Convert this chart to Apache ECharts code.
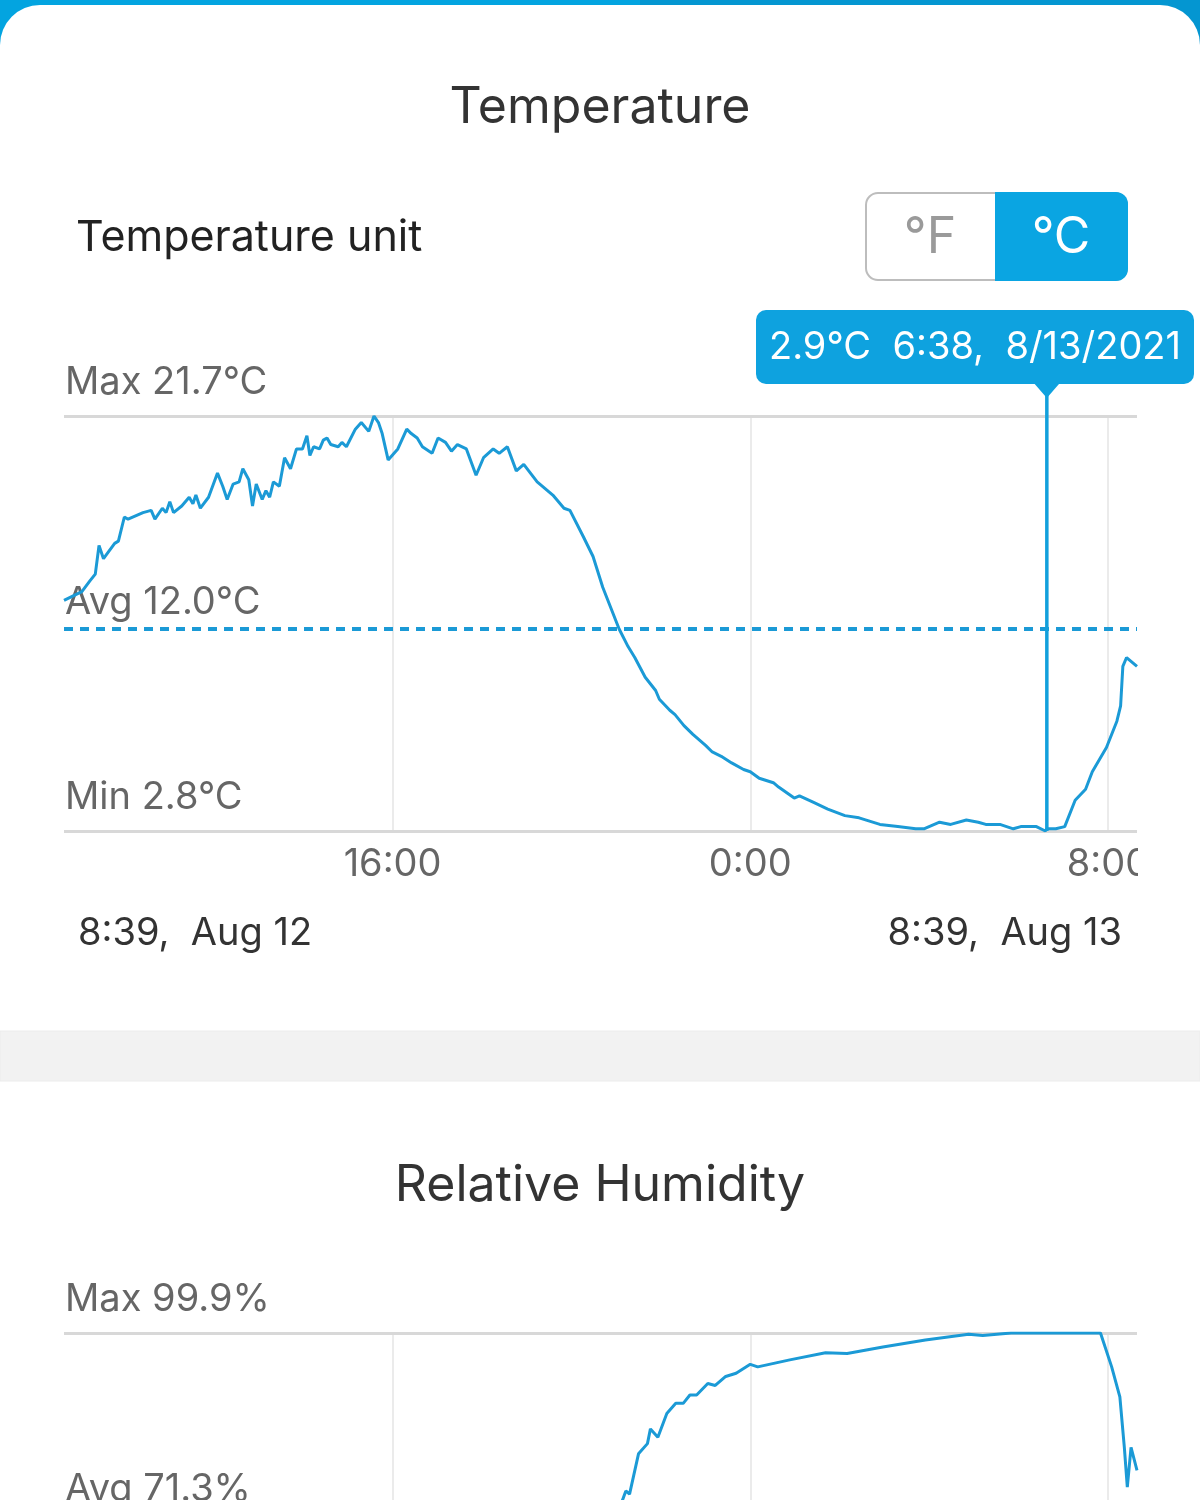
<!DOCTYPE html>
<html><head><meta charset="utf-8">
<script src="https://cdn.jsdelivr.net/npm/echarts@6/dist/echarts.min.js"></script>
<style>html,body{margin:0;padding:0;background:#fff;}#c{width:1200px;height:1500px;}</style>
</head><body><div id="c"></div>
<script>
// ---------- data ----------
const year = 2021;
const rangeStart = '08-12 08:39';
const rangeEnd = '08-13 08:39';
const xTicks = ['08-12 16:00', '08-13 00:00', '08-13 08:00'];

const tempTimes = ['08-12 08:39','08-12 09:03','08-12 09:14','08-12 09:21','08-12 09:26','08-12 09:32','08-12 09:47','08-12 09:52','08-12 10:00','08-12 10:05',
'08-12 10:25','08-12 10:36','08-12 10:41','08-12 10:51','08-12 10:56','08-12 11:01','08-12 11:06','08-12 11:17','08-12 11:27','08-12 11:32',
'08-12 11:36','08-12 11:42','08-12 11:53','08-12 12:05','08-12 12:12','08-12 12:18','08-12 12:26','08-12 12:34','08-12 12:39','08-12 12:47',
'08-12 12:52','08-12 12:57','08-12 13:05','08-12 13:10','08-12 13:15','08-12 13:20','08-12 13:28','08-12 13:35','08-12 13:43','08-12 13:51',
'08-12 13:59','08-12 14:05','08-12 14:09','08-12 14:14','08-12 14:22','08-12 14:27','08-12 14:32','08-12 14:37','08-12 14:47','08-12 14:52',
'08-12 14:58','08-12 15:10','08-12 15:18','08-12 15:28','08-12 15:35','08-12 15:41','08-12 15:46','08-12 15:54','08-12 16:07','08-12 16:19',
'08-12 16:25','08-12 16:33','08-12 16:40','08-12 16:53','08-12 17:01','08-12 17:11','08-12 17:19','08-12 17:27','08-12 17:39','08-12 17:52',
'08-12 18:02','08-12 18:15','08-12 18:23','08-12 18:34','08-12 18:46','08-12 18:56','08-12 19:14','08-12 19:35','08-12 19:50','08-12 19:58',
'08-12 20:16','08-12 20:29','08-12 20:42','08-12 21:04','08-12 21:16','08-12 21:25','08-12 21:39','08-12 21:53','08-12 21:58','08-12 22:12',
'08-12 22:19','08-12 22:31','08-12 22:43','08-12 23:00','08-12 23:09','08-12 23:21','08-12 23:35','08-12 23:51','08-13 00:00','08-13 00:12',
'08-13 00:31','08-13 00:38','08-13 00:59','08-13 01:06','08-13 01:25','08-13 01:44','08-13 02:07','08-13 02:26','08-13 02:54','08-13 03:18',
'08-13 03:42','08-13 03:53','08-13 04:14','08-13 04:29','08-13 04:50','08-13 05:06','08-13 05:16','08-13 05:35','08-13 05:53','08-13 06:03',
'08-13 06:24','08-13 06:36','08-13 06:38','08-13 06:50','08-13 07:02','08-13 07:16','08-13 07:30','08-13 07:39','08-13 07:58','08-13 08:12',
'08-13 08:17','08-13 08:20','08-13 08:25','08-13 08:39'];
const tempValues = [13.3,13.7,14.2,14.5,15.8,15.2,15.9,16.0,17.1,17.0,
17.3,17.4,17.0,17.5,17.3,17.8,17.3,17.6,18.0,17.7,
18.1,17.5,18.0,19.1,18.5,17.9,18.6,18.7,19.3,18.8,
17.6,18.6,17.9,18.3,18.0,18.7,18.5,19.8,19.3,20.2,
20.2,20.8,19.9,20.3,20.2,20.6,20.7,20.4,20.3,20.5,
20.3,21.1,21.4,21.0,21.7,21.4,20.9,19.7,20.2,21.1,
20.9,20.7,20.3,20.0,20.7,20.5,20.1,20.4,20.2,19.0,
19.8,20.2,20.0,20.3,19.2,19.5,18.7,18.1,17.5,17.4,
16.2,15.3,13.9,12.0,11.2,10.7,9.8,9.2,8.8,8.3,
8.1,7.6,7.2,6.7,6.4,6.2,5.9,5.6,5.5,5.2,
5.0,4.8,4.3,4.4,4.1,3.8,3.5,3.4,3.1,3.0,
2.9,2.9,3.2,3.1,3.3,3.2,3.1,3.1,2.9,3.0,
3.0,2.8,2.9,2.9,3.0,4.2,4.7,5.5,6.6,7.8,
8.5,10.3,10.7,10.3];
const tempStats = [21.7, 12.0, 2.8];          // max, avg, min
const cursorTime = '08-13 06:38';
const cursorValue = 2.9;

const humTimes = ['08-12 08:39','08-12 09:00','08-12 09:30','08-12 10:00','08-12 10:30','08-12 11:00','08-12 11:30','08-12 12:00','08-12 12:30','08-12 13:00',
'08-12 13:30','08-12 14:00','08-12 14:30','08-12 15:00','08-12 15:30','08-12 16:00','08-12 16:30','08-12 17:00','08-12 17:30','08-12 18:00',
'08-12 18:30','08-12 19:00','08-12 19:30','08-12 20:00','08-12 20:30','08-12 20:50','08-12 21:00','08-12 21:08','08-12 21:13','08-12 21:18',
'08-12 21:30','08-12 21:42','08-12 21:46','08-12 21:56','08-12 22:08','08-12 22:20','08-12 22:30','08-12 22:39','08-12 22:48','08-12 23:03',
'08-12 23:13','08-12 23:27','08-12 23:41','08-13 00:00','08-13 00:10','08-13 00:53','08-13 01:41','08-13 02:10','08-13 02:58','08-13 03:55',
'08-13 04:53','08-13 05:12','08-13 05:31','08-13 05:50','08-13 07:50','08-13 08:05','08-13 08:16','08-13 08:22','08-13 08:26','08-13 08:31',
'08-13 08:39'];
const humValues = [70,66,61,55,50,47,45,42,41,40,
38,37,36,35.5,35,36,36.5,37,38,39,
40,42,45,49,55,62,68,73.6,75.2,74.7,
81.0,82.6,84.9,83.6,87.3,88.9,88.9,90.2,90.2,92.0,
91.7,93.1,93.6,95.0,94.6,95.7,96.8,96.7,97.7,98.8,
99.7,99.5,99.7,99.9,99.9,94.6,89.9,82.0,75.8,82.0,
78.4];
const humStats = [99.9, 71.3, 35.0];          // max, avg, min (min estimated)

// ---------- helpers ----------
const FONT = 'Inter, Roboto, "Noto Sans", sans-serif';
const months = ['Jan','Feb','Mar','Apr','May','Jun','Jul','Aug','Sep','Oct','Nov','Dec'];
function toMin(s){ return (+s.slice(3,5) - 12) * 1440 + (+s.slice(6,8)) * 60 + (+s.slice(9,11)); }
function fmtHM(min){ const t = ((min % 1440) + 1440) % 1440; return Math.floor(t/60) + ':' + String(t % 60).padStart(2,'0'); }
function fmtStamp(s){ return fmtHM(toMin(s)) + ',  ' + months[+s.slice(0,2)-1] + ' ' + (+s.slice(3,5)); }

const xMin = toMin(rangeStart), xMax = toMin(rangeEnd);
const tickMins = xTicks.map(toMin);
const tData = tempTimes.map((t,i) => [toMin(t), tempValues[i]]);
const hData = humTimes.map((t,i) => [toMin(t), humValues[i]]);

const BLUE = '#1b9ad6';
function statLabel(text, dist){
  return {show:true, position:'insideStartTop', formatter:text, fontSize:38, color:'#666', fontFamily:FONT, distance:[1, dist]};
}
function markLines(stats, unit){
  return {
    silent:true, symbol:['none','none'], animation:false, z:1,
    data: [
      ...tickMins.map(v => ({xAxis:v, lineStyle:{color:'#e4e4e4', width:1.5, type:'solid'}, label:{show:false}})),
      {yAxis:stats[0], lineStyle:{color:'#d8d8d8', width:3, type:'solid'}, label:statLabel('Max ' + stats[0].toFixed(1) + unit, 14)},
      {yAxis:stats[2], lineStyle:{color:'#d8d8d8', width:3, type:'solid'}, label:statLabel('Min ' + stats[2].toFixed(1) + unit, 14)},
      {yAxis:stats[1], lineStyle:{color:BLUE, width:4, type:[9,7]}, label:statLabel('Avg ' + stats[1].toFixed(1) + unit, 7)}
    ]
  };
}
function xAxisCfg(gi){
  return {type:'value', gridIndex:gi, min:xMin, max:xMax,
    axisLine:{show:false}, axisTick:{show:false}, splitLine:{show:false},
    axisLabel:{customValues:tickMins, formatter:fmtHM, fontSize:38, color:'#666', fontFamily:FONT, margin:15}};
}

const chart = echarts.init(document.getElementById('c'), null, {width:1200, height:1500});
chart.setOption({
  animation:false,
  grid:[
    {left:64, top:416, width:1073, height:415, outerBoundsMode:'none', containLabel:false},
    {left:64, top:1333, width:1073, height:415, outerBoundsMode:'none', containLabel:false}
  ],
  xAxis:[xAxisCfg(0), xAxisCfg(1)],
  yAxis:[
    {type:'value', gridIndex:0, min:tempStats[2], max:tempStats[0], show:false},
    {type:'value', gridIndex:1, min:humStats[2], max:humStats[0], show:false}
  ],
  series:[
    {type:'line', xAxisIndex:0, yAxisIndex:0, data:tData, showSymbol:false, z:3,
     lineStyle:{color:BLUE, width:3}, itemStyle:{color:BLUE}, markLine:markLines(tempStats, '°C')},
    {type:'line', xAxisIndex:1, yAxisIndex:1, data:hData, showSymbol:false, z:3,
     lineStyle:{color:BLUE, width:3}, itemStyle:{color:BLUE}, markLine:markLines(humStats, '%')}
  ]
});

// cursor + tooltip positioned through the chart's own scales
const cx = toMin(cursorTime);
const p = chart.convertToPixel({gridIndex:0}, [cx, cursorValue]);
const pb = chart.convertToPixel({gridIndex:0}, [cx, tempStats[2]]);
const tipText = cursorValue.toFixed(1) + '°C  ' + fmtHM(cx) + ',  ' + (+cursorTime.slice(0,2)) + '/' + (+cursorTime.slice(3,5)) + '/' + year;
const tipW = 438, tipH = 74, tipY = 310;
const tipX = Math.min(p[0] - tipW/2, 1194 - tipW);
const TIP = '#0ea2df';

function txt(text, x, y, size, fill, align){
  return {type:'text', x:x, y:y, z:60, style:{text:text, font:size + 'px ' + FONT, fill:fill, textAlign:align || 'left', textVerticalAlign:'middle'}};
}

chart.setOption({graphic:{elements:[
  {type:'rect', z:-30, shape:{x:0, y:0, width:640, height:60}, style:{fill:'#03a4e0'}},
  {type:'rect', z:-30, shape:{x:640, y:0, width:560, height:60}, style:{fill:'#0496d1'}},
  {type:'rect', z:-20, shape:{x:0, y:5, width:1200, height:1026, r:[40,40,0,0]}, style:{fill:'#ffffff'}},
  {type:'rect', z:-20, shape:{x:0, y:1031, width:1200, height:50}, style:{fill:'#f2f2f2', stroke:'#ececec', lineWidth:1}},
  txt('Temperature', 600, 108, 50, '#333', 'center'),
  txt('Temperature unit', 76, 238, 43, '#222'),
  {type:'rect', z:50, shape:{x:866, y:193, width:261, height:87, r:12}, style:{fill:'#fff', stroke:'#bdbdbd', lineWidth:2}},
  {type:'rect', z:51, shape:{x:995, y:192, width:133, height:89, r:[0,12,12,0]}, style:{fill:'#0aa5e2'}},
  txt('°F', 930, 238, 50, '#9a9a9a', 'center'),
  txt('°C', 1061, 238, 50, '#fff', 'center'),
  txt('Relative Humidity', 600, 1186, 50, '#333', 'center'),
  txt(fmtStamp(rangeStart), 78, 934, 38, '#333'),
  txt(fmtStamp(rangeEnd), 1122, 934, 38, '#333', 'right'),
  {type:'rect', z:70, shape:{x:1138, y:840, width:62, height:50}, style:{fill:'#fff'}},
  {type:'line', z:40, shape:{x1:p[0], y1:tipY + tipH + 10, x2:p[0], y2:pb[1]}, style:{stroke:'#12a0dc', lineWidth:3.5}},
  {type:'rect', z:55, shape:{x:tipX, y:tipY, width:tipW, height:tipH, r:10}, style:{fill:TIP}},
  {type:'polygon', z:55, shape:{points:[[p[0]-13, tipY+tipH-1],[p[0]+13, tipY+tipH-1],[p[0], tipY+tipH+14]]}, style:{fill:TIP}},
  txt(tipText, tipX + tipW/2, tipY + tipH/2 + 1, 38, '#fff', 'center')
]}});
</script>
</body></html>
